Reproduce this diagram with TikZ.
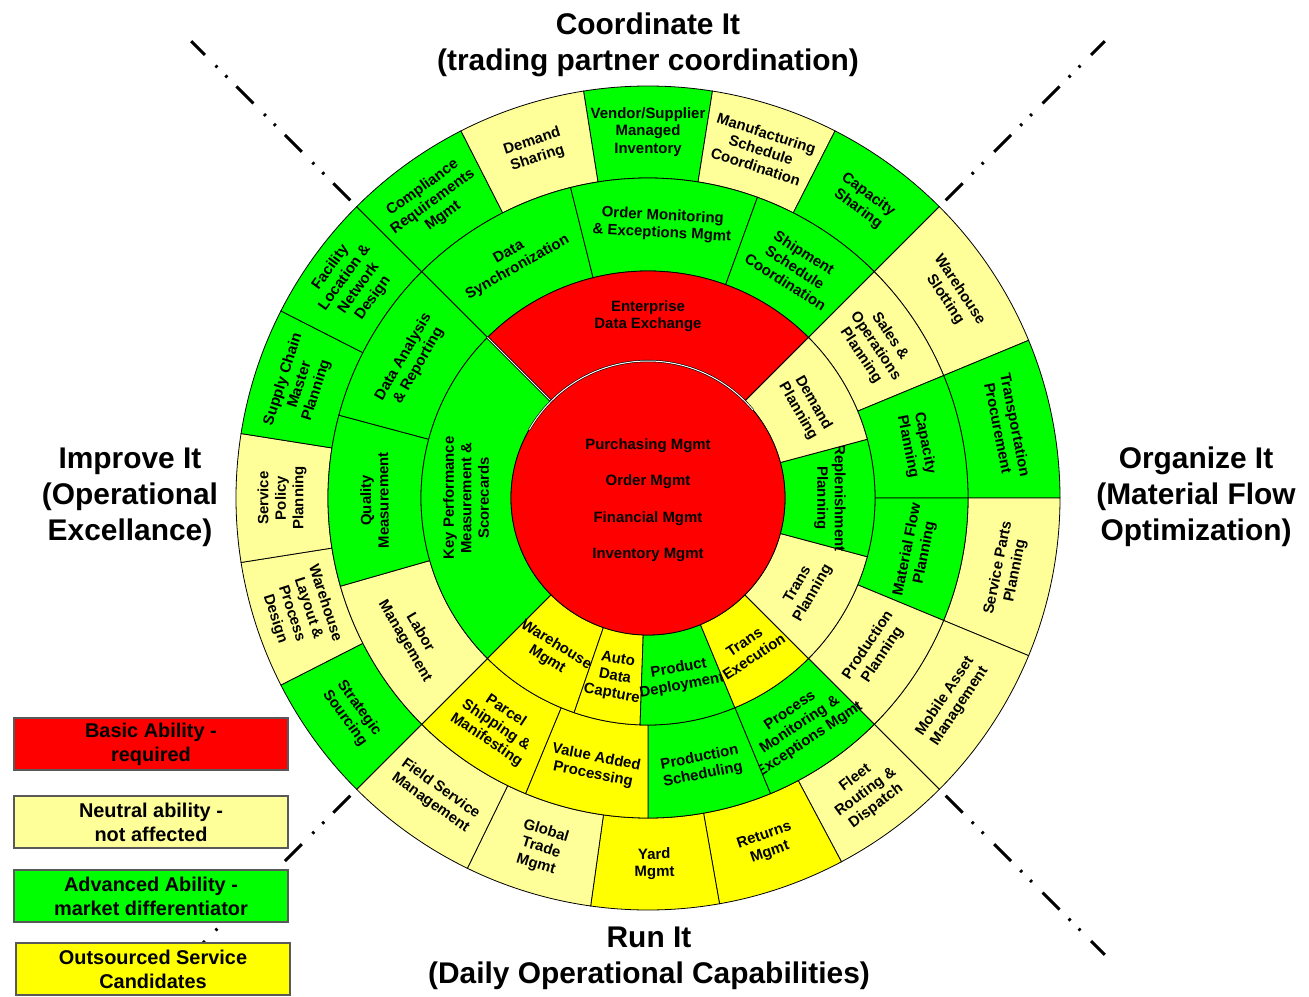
\documentclass[tikz,border=0pt]{standalone}
\usepackage{fontspec}
\setmainfont{Liberation Sans}

\definecolor{basicred}{RGB}{255,0,0}
\definecolor{neutralyellow}{RGB}{255,255,153}
\definecolor{advancedgreen}{RGB}{0,255,0}
\definecolor{outsourceyellow}{RGB}{255,255,0}

\newcommand{\ringcell}[7]{%
  \pgfmathsetmacro{\cellmid}{(#4+#5)/2}%
  \pgfmathsetmacro{\cellturn}{\cellmid<0 ? \cellmid+90 : \cellmid-90}%
  \filldraw[cell,fill=#6] (#4:#2) arc[start angle=#4,end angle=#5,radius=#2]
    -- (#5:#3) arc[start angle=#5,end angle=#4,radius=#3] -- cycle;
  \node[cell text,rotate=\cellturn] (#1) at (\cellmid:{(#2+#3)/2}) {#7};}

\begin{document}
\begin{tikzpicture}
  [x=1bp,y=1bp,
   cell/.style={draw=black,line width=0.8bp},
   cell text/.style={align=center,inner sep=0pt,font=\bfseries\fontsize{15}{17.5}\selectfont},
   core text/.style={align=center,inner sep=0pt,font=\bfseries\fontsize{15}{36.5}\selectfont},
   heading/.style={align=center,inner sep=0pt,font=\bfseries\fontsize{30}{36}\selectfont},
   key box/.style={draw=black!65,line width=1.2bp,minimum width=274bp,minimum height=52bp,
     align=center,inner sep=0pt,font=\bfseries\fontsize{20}{24}\selectfont},
   axis line/.style={line width=3bp,dash pattern=on 24bp off 13bp on 2.5bp off 11.5bp on 2.5bp off 15bp}]
  \useasboundingbox (-648,-498) rectangle (661,498);

  \foreach \ang in {45,135,-135,-45}
    \draw[axis line] (\ang:421) -- (\ang:646);

  \foreach \nm/\a/\b/\col/\txt in {
      vmi/81/99/advancedgreen/{Vendor/Supplier\\Managed\\Inventory},
      msc/63/81/neutralyellow/{Manufacturing\\Schedule\\Coordination},
      csh/45/63/advancedgreen/{Capacity\\Sharing},
      wsl/22.5/45/neutralyellow/{Warehouse\\Slotting},
      tpr/0/22.5/advancedgreen/{Transportation\\Procurement},
      spp/-22.5/0/neutralyellow/{Service Parts\\Planning},
      mam/-45/-22.5/neutralyellow/{Mobile Asset\\Management},
      frd/-62/-45/neutralyellow/{Fleet\\Routing \&\\Dispatch},
      ret/-80/-62/outsourceyellow/{Returns\\Mgmt},
      yrd/-98/-80/outsourceyellow/{Yard\\Mgmt},
      gtm/-116/-98/neutralyellow/{Global\\Trade\\Mgmt},
      fsm/-135/-116/neutralyellow/{Field Service\\Management},
      ssr/-153/-135/advancedgreen/{Strategic\\Sourcing},
      wlp/-171/-153/neutralyellow/{Warehouse\\Layout \&\\Process\\Design},
      spl/171/189/neutralyellow/{Service\\Policy\\Planning},
      scm/153/171/advancedgreen/{Supply Chain\\Master\\Planning},
      fln/135/153/advancedgreen/{Facility\\Location \&\\Network\\Design},
      crm/117/135/advancedgreen/{Compliance\\Requirements\\Mgmt},
      dsh/99/117/neutralyellow/{Demand\\Sharing}}
    \ringcell{\nm}{320}{412}{\a}{\b}{\col}{\txt};

  \foreach \nm/\a/\b/\col/\txt in {
      dsy/104/135/advancedgreen/{Data\\Synchronization},
      omx/70/104/advancedgreen/{Order Monitoring\\\& Exceptions Mgmt},
      ssc/45/70/advancedgreen/{Shipment\\Schedule\\Coordination},
      sop/22.5/45/neutralyellow/{Sales \&\\Operations\\Planning},
      cpl/0/22.5/advancedgreen/{Capacity\\Planning},
      mfp/-22.5/0/advancedgreen/{Material Flow\\Planning},
      ppl/-45/-22.5/neutralyellow/{Production\\Planning},
      pmx/-67.5/-45/advancedgreen/{Process\\Monitoring \&\\Exceptions Mgmt},
      psc/-90/-67.5/advancedgreen/{Production\\Scheduling},
      vap/-112.5/-90/outsourceyellow/{Value Added\\Processing},
      psm/-135/-112.5/outsourceyellow/{Parcel\\Shipping \&\\Manifesting},
      lab/-164/-135/neutralyellow/{Labor\\Management},
      qme/165/196/advancedgreen/{Quality\\Measurement},
      dar/135/165/advancedgreen/{Data Analysis\\\& Reporting}}
    \ringcell{\nm}{227}{320}{\a}{\b}{\col}{\txt};

  \foreach \nm/\a/\b/\col/\txt in {
      edx/45/135/basicred/{Enterprise\\Data Exchange},
      kpi/135/225/advancedgreen/{Key Performance\\Measurement \&\\Scorecards},
      whm/-135/-109/outsourceyellow/{Warehouse\\Mgmt},
      adc/-109/-92/outsourceyellow/{Auto\\Data\\Capture},
      pdp/-92/-67.5/advancedgreen/{Product\\Deployment},
      tex/-67.5/-45/outsourceyellow/{Trans\\Execution},
      tpl/-45/-15/neutralyellow/{Trans\\Planning},
      rpl/-15/15/advancedgreen/{Replenishment\\Planning},
      dpl/15/45/neutralyellow/{Demand\\Planning}}
    \ringcell{\nm}{137}{227}{\a}{\b}{\col}{\txt};

  \draw[cell,double=white,double distance=1bp] (135:137) -- (135:227);
  \filldraw[cell,fill=basicred] (0,0) circle[radius=137];
  \draw[cell,line width=0.6bp,double=white,double distance=1bp] (40:137) arc[start angle=40,end angle=150,radius=137];
  \node[core text] (core) at (0,-2) {Purchasing Mgmt\\Order Mgmt\\Financial Mgmt\\Inventory Mgmt};

  \node[heading] (coordinate) at (0,453.5) {Coordinate It\\(trading partner coordination)};
  \node[heading] (improve) at (-518,1) {Improve It\\(Operational\\Excellance)};
  \node[heading] (organize) at (548,1) {Organize It\\(Material Flow\\Optimization)};
  \node[heading] (run) at (1,-460) {Run It\\(Daily Operational Capabilities)};

  \node[key box,fill=basicred] (basic) at (-497,-246) {Basic Ability -\\required};
  \node[key box,fill=neutralyellow] (neutral) at (-497,-324) {Neutral ability -\\not affected};
  \node[key box,fill=advancedgreen] (advanced) at (-497,-398) {Advanced Ability -\\market differentiator};
  \node[key box,fill=outsourceyellow] (outsourced) at (-495,-471) {Outsourced Service\\Candidates};
\end{tikzpicture}
\end{document}
